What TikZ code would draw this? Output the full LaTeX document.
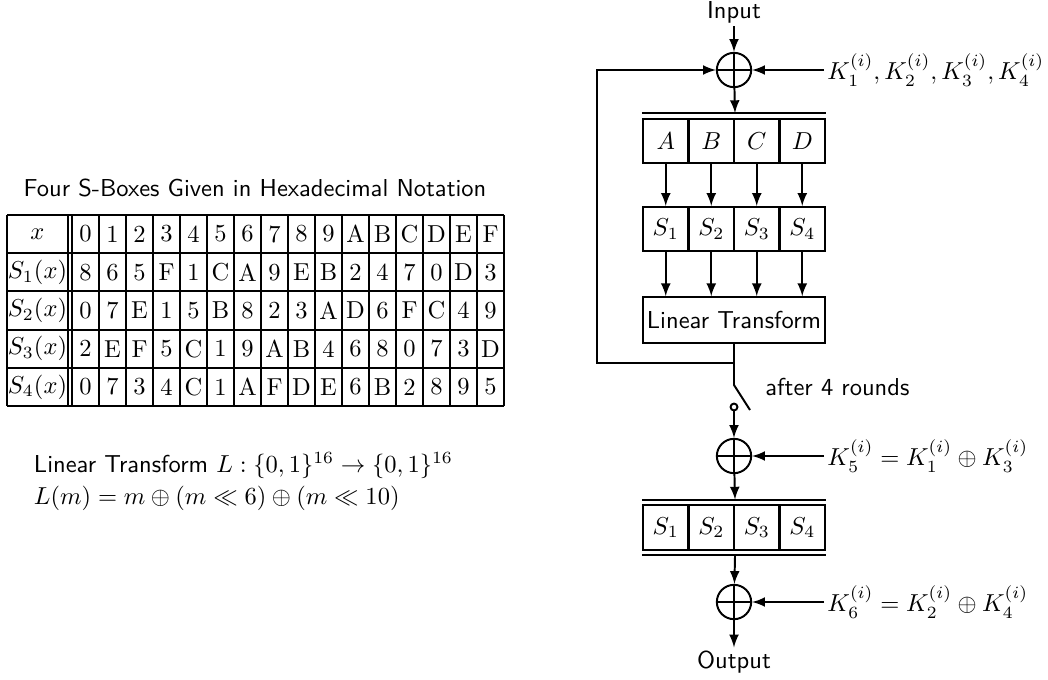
\documentclass[tikz,border=0pt]{standalone}
\usepackage{amsmath}
\usepackage{amssymb}
\usetikzlibrary{arrows, positioning}

\begin{document}
\begin{tikzpicture}[x=0.408pt, y=-0.408pt, thick,
        cell/.style={rectangle, draw, minimum width=18.6pt, minimum height=18pt, inner sep=0pt},
        ltbox/.style={rectangle, draw, minimum width=74.3pt, minimum height=18.6pt, inner sep=1pt, font=\sffamily},
        xor/.style={circle, draw, minimum size=14pt, inner sep=0pt,
            path picture={\draw[thick] (path picture bounding box.north) -- (path picture bounding box.south)
                (path picture bounding box.west) -- (path picture bounding box.east);}},
        lbl/.style={font=\sffamily, inner sep=1pt},
        key/.style={anchor=west, inner sep=1pt},
        tab/.style={inner sep=0pt}]
        \useasboundingbox (0,0) rectangle (1048,679);

        % S-box table
        \node[lbl] (title) at (255,188) {Four S-Boxes Given in Hexadecimal Notation};
        \foreach \h [count=\r from 0] in {x,S_1(x),S_2(x),S_3(x),S_4(x)}
            \node[tab] (h\r) at (37.5,{234.1+38.2*\r}) {$\h$};
        \foreach \vals [count=\r from 0] in {{0,1,2,3,4,5,6,7,8,9,A,B,C,D,E,F},
                {8,6,5,F,1,C,A,9,E,B,2,4,7,0,D,3},
                {0,7,E,1,5,B,8,2,3,A,D,6,F,C,4,9},
                {2,E,F,5,C,1,9,A,B,4,6,8,0,7,3,D},
                {0,7,3,4,C,1,A,F,D,E,6,B,2,8,9,5}}
            \foreach \v [count=\c from 0] in \vals
                \node[tab] (t\r-\c) at ({85.5+27*\c},{234.1+38.2*\r}) {\v};
        \foreach \r in {0,...,5}
            \draw (7,{215+38.2*\r}) -- (504,{215+38.2*\r});
        \foreach \c in {0,...,16}
            \draw ({72+27*\c},215) -- ({72+27*\c},406);
        \draw (7,215) -- (7,406);
        \draw (68,215) -- (68,406);

        \node[anchor=base west, inner sep=0pt] (ldef) at (33,472) {\sffamily Linear Transform $L:\{0,1\}^{16}\to\{0,1\}^{16}$};
        \node[anchor=base west, inner sep=0pt] (lform) at (33,504) {$L(m)=m\oplus(m\ll 6)\oplus(m\ll 10)$};

        % round structure
        \node[lbl] (in) at (734,12) {Input};
        \node[xor] (x1) at (734,70) {};
        \node[key] (k1) at (824,70) {$K_1^{(i)}, K_2^{(i)}, K_3^{(i)}, K_4^{(i)}$};
        \foreach \n/\t in {1/A,2/B,3/C,4/D}
            \node[cell] (ab\n) at ({643+45.5*(\n-0.5)},141) {$\t$};
        \foreach \n in {1,...,4}
            \node[cell] (sb\n) at ({643+45.5*(\n-0.5)},229) {$S_\n$};
        \node[ltbox] (lt) at (734,320) {Linear Transform};
        \draw ([yshift=2pt]ab1.north west) -- ([yshift=2pt]ab4.north east);

        \path[-latex] (in) edge (x1);
        \path[-latex] (k1) edge (x1);
        \draw[-latex] (x1) -- ([yshift=2pt]ab2.north east);
        \foreach \n in {1,...,4} {
            \draw[-latex] (ab\n) -- (sb\n);
            \draw[-latex] (sb\n.south) -- (sb\n.south |- lt.north);
        }

        % feedback and switch
        \coordinate (join) at (734,363);
        \coordinate (fb) at (597,363);
        \coordinate (sw) at (734,385);
        \draw (lt) -- (join) -- (sw) -- ++(16,25);
        \draw[-latex] (join) -- (fb) |- (x1);
        \node[circle, draw, inner sep=0pt, minimum size=2.8pt] (pin) at (734,407) {};
        \node[lbl, anchor=base west] (rounds) at (762,395) {after 4 rounds};

        % output transformation
        \node[xor] (x2) at (734,456) {};
        \node[key] (k5) at (824,456) {$K_5^{(i)} = K_1^{(i)} \oplus K_3^{(i)}$};
        \foreach \n in {1,...,4}
            \node[cell] (ob\n) at ({643+45.5*(\n-0.5)},527.5) {$S_\n$};
        \draw ([yshift=2pt]ob1.north west) -- ([yshift=2pt]ob4.north east);
        \draw ([yshift=-2pt]ob1.south west) -- ([yshift=-2pt]ob4.south east);
        \node[xor] (x3) at (734,602) {};
        \node[key] (k6) at (824,602) {$K_6^{(i)} = K_2^{(i)} \oplus K_4^{(i)}$};
        \node[lbl] (out) at (734,662) {Output};

        \path[-latex] (pin) edge (x2);
        \path[-latex] (k5) edge (x2);
        \draw[-latex] (x2) -- ([yshift=2pt]ob2.north east);
        \draw[-latex] ([yshift=-2pt]ob2.south east) -- (x3);
        \path[-latex] (k6) edge (x3);
        \path[-latex] (x3) edge (out);
\end{tikzpicture}
\end{document}
